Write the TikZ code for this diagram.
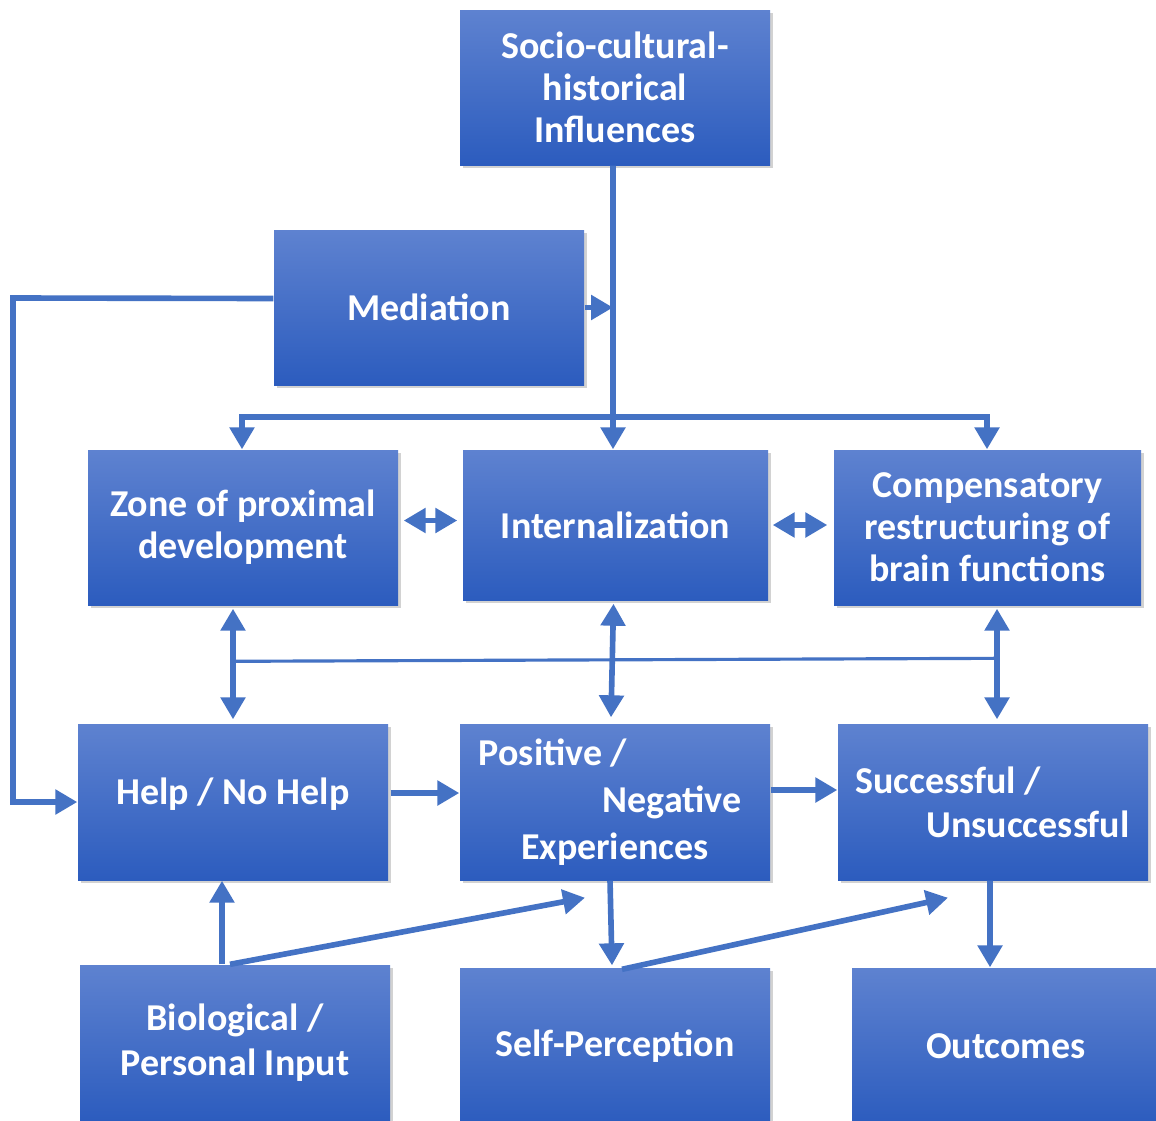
\documentclass[tikz,border=0pt]{standalone}
\usepackage{fontspec}
\setmainfont{Carlito}
\usetikzlibrary{arrows.meta,shadows,calc}
\definecolor{boxtop}{RGB}{94,130,208}
\definecolor{boxbot}{RGB}{44,92,190}
\definecolor{linkblue}{RGB}{68,114,196}
\tikzset{
  block/.style={rectangle, top color=boxtop, bottom color=boxbot, draw=none,
    minimum width=3.1cm, minimum height=1.55cm, inner sep=0pt, align=center,
    text=white, font=\fontsize{10.8}{12}\selectfont\bfseries,
    drop shadow={shadow xshift=0.03cm, shadow yshift=-0.03cm, opacity=0.35}},
  arr/.style={draw=linkblue, line width=1.6pt, -{Triangle[length=0.22cm,width=0.24cm]}},
  darr/.style={draw=linkblue, line width=1.6pt, {Triangle[length=0.22cm,width=0.24cm]}-{Triangle[length=0.22cm,width=0.24cm]}},
  plain/.style={draw=linkblue, line width=1.6pt},
  thinline/.style={draw=linkblue, line width=0.9pt}
}
\begin{document}
\begin{tikzpicture}
        \useasboundingbox[fill=white] (0,0) rectangle (11.56,-11.2);

        % boxes
        \node[block] (socio) at (6.15, -0.875) {Socio-cultural-\\historical\\Influences};
        \node[block] (med) at (4.29, -3.075) {Mediation};
        \node[block] (zpd) at (2.43, -5.275) {Zone of proximal\\development};
        \node[block, minimum width=3.05cm, minimum height=1.5cm] (intern) at (6.155, -5.25) {Internalization};
        \node[block, minimum width=3.07cm] (comp) at (9.875, -5.275) {Compensatory\\restructuring of\\brain functions};
        \node[block, minimum height=1.56cm] (help) at (2.33, -8.02) {\raisebox{0.22cm}{Help / No Help}};
        \node[block, minimum height=1.56cm] (posneg) at (6.15, -8.02) {Positive /\hspace*{1.24cm}\\[0.05cm]\hspace*{1.14cm}Negative\\[0.05cm]Experiences};
        \node[block, minimum height=1.56cm] (succ) at (9.93, -8.02) {Successful /\hspace*{0.9cm}\\[0.02cm]\hspace*{0.7cm}Unsuccessful};
        \node[block, minimum height=1.56cm] (bio) at (2.35, -10.43) {Biological /\\[0.03cm]Personal Input};
        \node[block, minimum height=1.56cm] (self) at (6.15, -10.46) {Self-Perception};
        \node[block, minimum width=3.08cm, minimum height=1.56cm] (outc) at (10.06, -10.46) {Outcomes};

        % top part
        \coordinate (branch) at (6.13, -4.17);
        \coordinate (loop) at (0.13, -2.98);
        \draw[arr] ([xshift=-0.02cm]socio.south) -- ([xshift=-0.025cm]intern.north);
        \draw[arr] (med.east) -- ([xshift=-0.02cm]med.east -| socio.south);
        \draw[arr] (branch) -| ([xshift=-0.01cm]zpd.north);
        \draw[arr] (branch) -| ([xshift=-0.005cm]comp.north);
        \draw[arr] ([yshift=0.09cm]med.west) -- (loop) |- (help.west);

        % middle row
        \draw[darr] ([shift={(0.05,0.07)}]zpd.east) -- ([shift={(-0.05,0.07)}]zpd.east -| intern.west);
        \draw[darr] ([xshift=0.04cm]intern.east) -- ([xshift=-0.06cm]intern.east -| comp.west);
        \draw[darr] ([yshift=-0.03cm]help.north |- zpd.south) -- ([yshift=0.04cm]help.north);
        \draw[darr] ([shift={(-0.02,-0.03)}]intern.south) -- ([shift={(-0.04,0.06)}]posneg.north);
        \draw[darr] ([shift={(0.04,-0.03)}]succ.north |- comp.south) -- ([shift={(0.04,0.04)}]succ.north);
        \draw[thinline] ($(help.north)+(0,0.62)$) -- ($(succ.north)+(0.04,0.65)$);

        % lower rows
        \draw[arr] ([shift={(0.02,0.09)}]help.east) -- ([yshift=0.09cm]posneg.west);
        \draw[arr] ([yshift=0.12cm]posneg.east) -- ([yshift=0.12cm]succ.west);
        \draw[arr] ([xshift=-0.13cm]bio.north) -- ([xshift=-0.11cm]help.south);
        \draw[arr] ([xshift=-0.05cm]bio.north) -- ([shift={(-0.3,-0.17)}]posneg.south);
        \draw[arr] ([xshift=-0.05cm]posneg.south) -- ([shift={(-0.03,0.02)}]self.north);
        \draw[arr] ([shift={(0.07,-0.02)}]self.north) -- ([shift={(-0.45,-0.17)}]succ.south);
        \draw[arr] ([xshift=-0.03cm]succ.south) -- ([xshift=-0.16cm]outc.north);
      \end{tikzpicture}
\end{document}
